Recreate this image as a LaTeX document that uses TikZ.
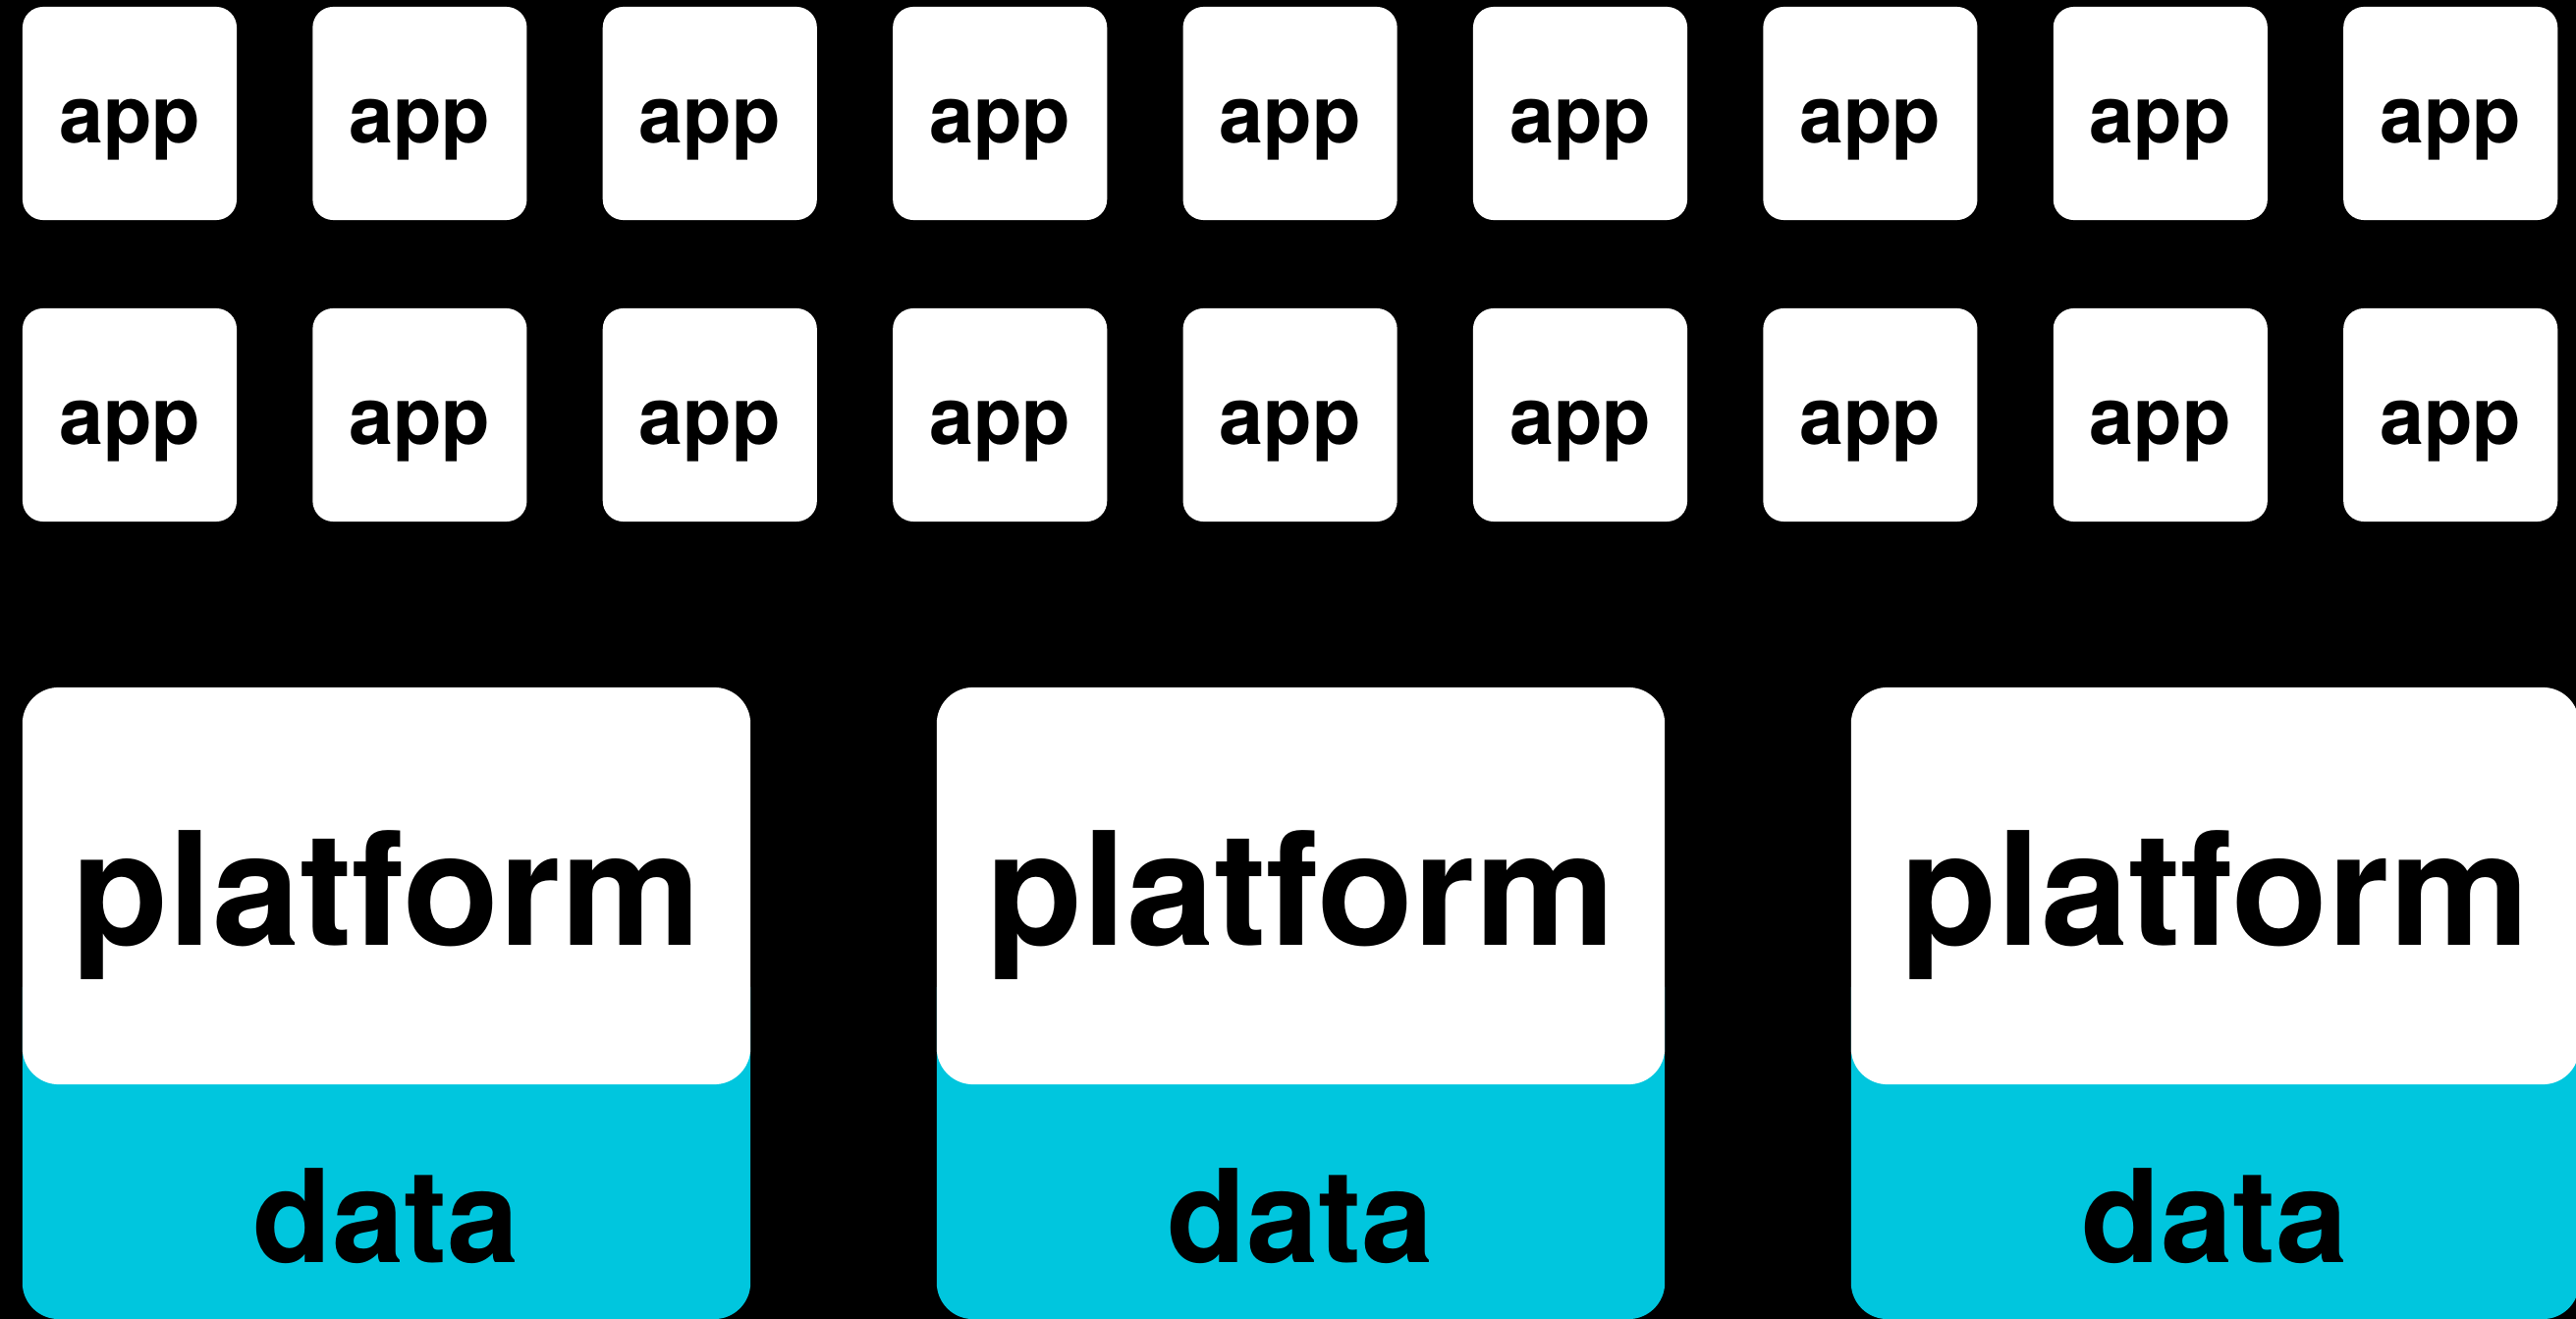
\documentclass[tikz,border=0pt]{standalone}
\usepackage{fontspec}
\setmainfont{TeX Gyre Heros}
\definecolor{datacyan}{RGB}{0,198,222}
\begin{document}
\begin{tikzpicture}[x=0.01cm,y=-0.01cm,
  appbox/.style={fill=white, draw=none, rounded corners=0.21cm, minimum width=2.18cm, minimum height=2.17cm, inner sep=0pt},
  apptext/.style={font=\fontsize{23}{23}\selectfont\bfseries, text=black, anchor=base, inner sep=0pt},
  platbox/.style={fill=white, draw=none, rounded corners=0.37cm, minimum width=7.41cm, minimum height=4.04cm, inner sep=0pt},
  databox/.style={fill=datacyan, draw=none, rounded corners=0.37cm, minimum width=7.41cm, minimum height=3.71cm, inner sep=0pt},
  plattext/.style={font=\fontsize{45.6}{46}\selectfont\bfseries, text=black, anchor=base, inner sep=0pt},
  datatext/.style={font=\fontsize{37.4}{38}\selectfont\bfseries, text=black, anchor=base, inner sep=0pt}]
\fill[black] (0,0) rectangle (2623,1343);
\useasboundingbox (0,0) rectangle (2623,1343);
\clip (0,0) rectangle (2623,1343);
\foreach \k in {0,...,8} {
  \node[appbox] (appA\k) at ({132+\k*295.4},115.5) {};
  \node[apptext] (appAt\k) at ({132+\k*295.4},146) {app};
  \node[appbox] (appB\k) at ({132+\k*295.4},422.5) {};
  \node[apptext] (appBt\k) at ({132+\k*295.4},453) {app};
}
\foreach \k in {0,1,2} {
  \node[databox] (data\k) at ({393.5+\k*931},1157.5) {};
  \node[platbox] (plat\k) at ({393.5+\k*931},902) {};
  \node[plattext] (platt\k) at ({393.5+\k*931},962) {platform};
  \node[datatext] (datat\k) at ({393.5+\k*931},1285) {data};
}
\end{tikzpicture}
\end{document}
